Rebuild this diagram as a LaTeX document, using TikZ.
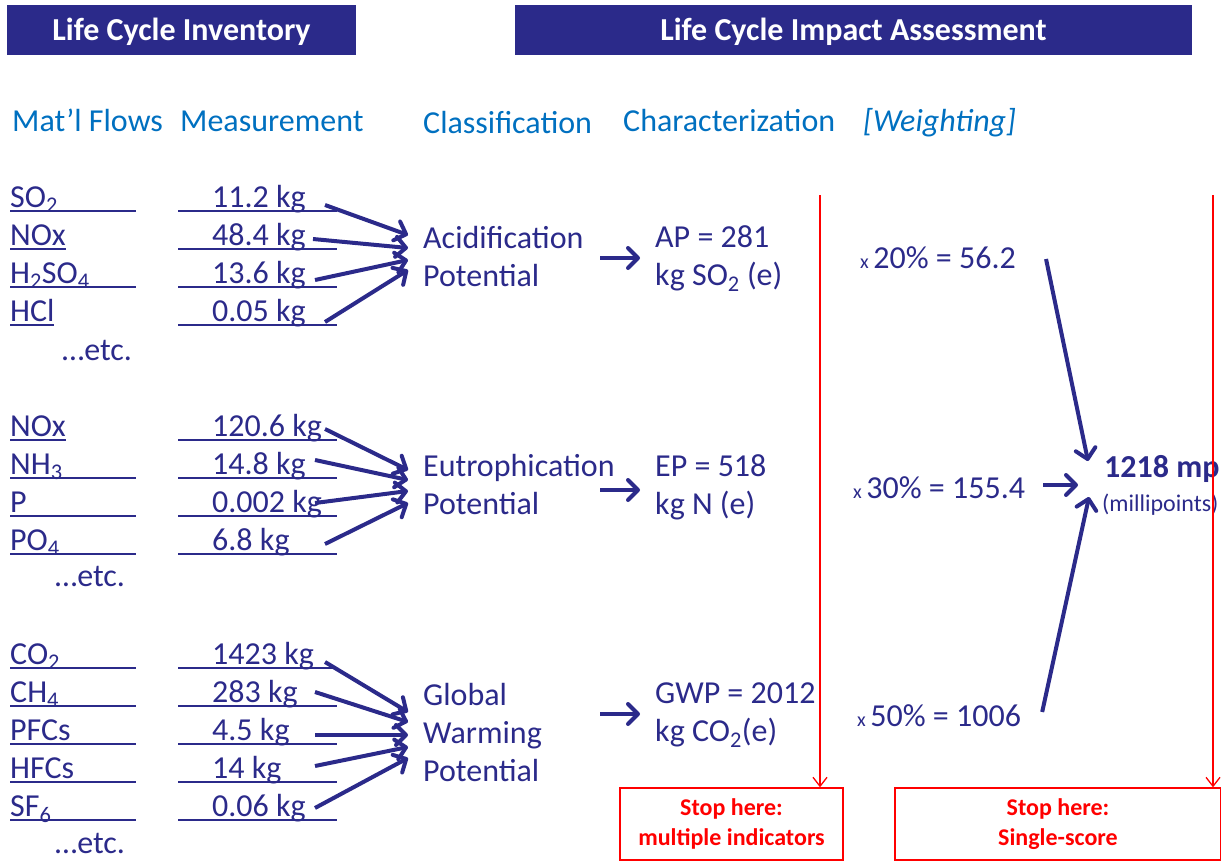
\documentclass[tikz,border=0pt]{standalone}
\usepackage{fontspec}
\setmainfont{Carlito}
\usetikzlibrary{arrows.meta}
\definecolor{lcablue}{RGB}{43,42,138}
\definecolor{headblue}{RGB}{0,112,192}
\definecolor{stopred}{RGB}{255,0,0}

\begin{document}
\begin{tikzpicture}[x=1pt, y=-1pt,
    every node/.style={inner sep=0pt, text=lcablue, font=\fontsize{32}{38}\selectfont},
    header/.style={fill=lcablue, text=white, font=\fontsize{32}{38}\selectfont\bfseries, minimum height=50pt, text height=24pt, text depth=2pt},
    colhead/.style={anchor=base west, text=headblue},
    flow/.style={anchor=base west},
    uline/.style={draw=lcablue, line width=1.3pt},
    feed/.style={draw=lcablue, line width=4pt, -{Straight Barb[length=10pt,width=20pt,round]}},
    stopline/.style={draw=stopred, line width=1.3pt, -{Straight Barb[length=9pt,width=14pt]}},
    stopbox/.style={draw=stopred, line width=1.3pt, text=stopred, minimum height=72pt, align=center, font=\fontsize{24}{30}\selectfont\bfseries},
]
\useasboundingbox (0,0) rectangle (1221,864);

% Kopfzeilen
\node[header, minimum width=349pt] (inv) at (181.5,30) {Life Cycle Inventory};
\node[header, minimum width=677pt] (lcia) at (853.5,30) {Life Cycle Impact Assessment};

\node[colhead] (hflow) at (12,132) {Mat'l Flows};
\node[colhead] (hmeas) at (180,132) {Measurement};
\node[colhead] (hclass) at (423,134) {Classification};
\node[colhead] (hchar) at (623,132) {Characterization};
\node[colhead, font=\fontsize{32}{38}\selectfont\itshape] (hweight) at (863,132) {[Weighting]};

% Versauerung
\node[anchor=west, align=left] (acid) at (423,257) {Acidification\\Potential};
\node[anchor=west, align=left] (ap) at (655,259) {AP = 281\\kg SO\textsubscript{2} (e)};
\foreach \i/\t/\v/\w/\y/\sx/\sy/\ty in {1/SO\textsubscript{2}/11.2/126/207/113/-2/-22,
    2/NOx/48.4/56/245/101/-6/-9,
    3/H\textsubscript{2}SO\textsubscript{4}/13.6/126/283/103/-3/3,
    4/HCl/0.05/44/321/113/1/13} {
  \node[flow] (a\i) at (10,\y) {\t};
  \node[flow] (va\i) at (212,\y) {\v~kg};
  \draw[uline] ([yshift=-4pt]a\i.base west) -- ++(\w,0);
  \draw[uline] ([shift={(-34,4)}]va\i.base west) -- ++(159,0);
  \draw[feed] ([shift={(\sx,\sy)}]va\i.base west) -- ([shift={(-15,\ty)}]acid.west);
}
\node[flow] (etca) at (62,360) {…etc.};
\draw[feed] ([shift={(177,1)}]acid.west) -- ([shift={(-15,-1)}]ap.west);

% Eutrophierung
\node[anchor=west, align=left] (eut) at (423,485) {Eutrophication\\Potential};
\node[anchor=west, align=left] (ep) at (655,487) {EP = 518\\kg N (e)};
\foreach \i/\t/\v/\w/\y/\sx/\sy/\ty in {1/NOx/120.6/56/436/113/-7/-15,
    2/NH\textsubscript{3}/14.8/126/474/103/-14/-5,
    3/P/0.002/126/512/103/-9/6,
    4/PO\textsubscript{4}/6.8/126/550/113/-6/18} {
  \node[flow] (e\i) at (10,\y) {\t};
  \node[flow] (ve\i) at (212,\y) {\v~kg};
  \draw[uline] ([yshift=-4pt]e\i.base west) -- ++(\w,0);
  \draw[uline] ([shift={(-34,4)}]ve\i.base west) -- ++(159,0);
  \draw[feed] ([shift={(\sx,\sy)}]ve\i.base west) -- ([shift={(-15,\ty)}]eut.west);
}
\node[flow] (etce) at (55,586) {…etc.};
\draw[feed] ([shift={(177,5)}]eut.west) -- ([shift={(-15,3)}]ep.west);

% Treibhauseffekt
\node[anchor=west, align=left] (gw) at (423,733) {Global\\Warming\\Potential};
\node[anchor=west, align=left] (gwp) at (655,715) {GWP = 2012\\kg CO\textsubscript{2}(e)};
\foreach \i/\t/\v/\y/\sx/\sy/\ty in {1/CO\textsubscript{2}/1423/664/113/-2/-21,
    2/CH\textsubscript{4}/283/702/103/-10/-11,
    3/PFCs/4.5/740/103/-5/2,
    4/HFCs/14/778/103/-12/14,
    5/SF\textsubscript{6}/0.06/816/103/-8/25} {
  \node[flow] (g\i) at (10,\y) {\t};
  \node[flow] (vg\i) at (212,\y) {\v~kg};
  \draw[uline] ([yshift=-4pt]g\i.base west) -- ++(126,0);
  \draw[uline] ([shift={(-34,4)}]vg\i.base west) -- ++(159,0);
  \draw[feed] ([shift={(\sx,\sy)}]vg\i.base west) -- ([shift={(-15,\ty)}]gw.west);
}
\node[flow] (etcg) at (55,853) {…etc.};
\draw[feed] ([shift={(177,-19)}]gw.west) -- ([shift={(-15,-1)}]gwp.west);

% Gewichtung
\node[flow] (w1) at (860,268) {{\fontsize{20}{24}\selectfont x }20\% = 56.2};
\node[flow] (w2) at (853,498) {{\fontsize{20}{24}\selectfont x }30\% = 155.4};
\node[flow] (w3) at (857,726) {{\fontsize{20}{24}\selectfont x }50\% = 1006};
\node[flow, font=\fontsize{32}{38}\selectfont\bfseries] (tot) at (1104,477) {1218 mp};
\node[flow, font=\fontsize{24}{28}\selectfont] (mpt) at (1102,511) {(millipoints)};
\draw[feed] ([shift={(30,-9)}]w1.base east) -- ([shift={(-16,-16)}]tot.base west);
\draw[feed] ([shift={(18,-13)}]w2.base east) -- ([shift={(-26,8)}]tot.base west);
\draw[feed] ([shift={(21,-14)}]w3.base east) -- ([shift={(-15,20)}]tot.base west);

% Abbruchpunkte
\coordinate (top1) at (820,195);
\coordinate (top2) at (1213,195);
\node[stopbox, minimum width=223pt] (stop1) at (731.5,824) {Stop here:\\multiple indicators};
\node[stopbox, minimum width=326pt] (stop2) at (1058,824) {Stop here:\\Single-score};
\draw[stopline] (top1) -- (top1 |- stop1.north);
\draw[stopline] (top2) -- (top2 |- stop2.north);
\end{tikzpicture}
\end{document}
